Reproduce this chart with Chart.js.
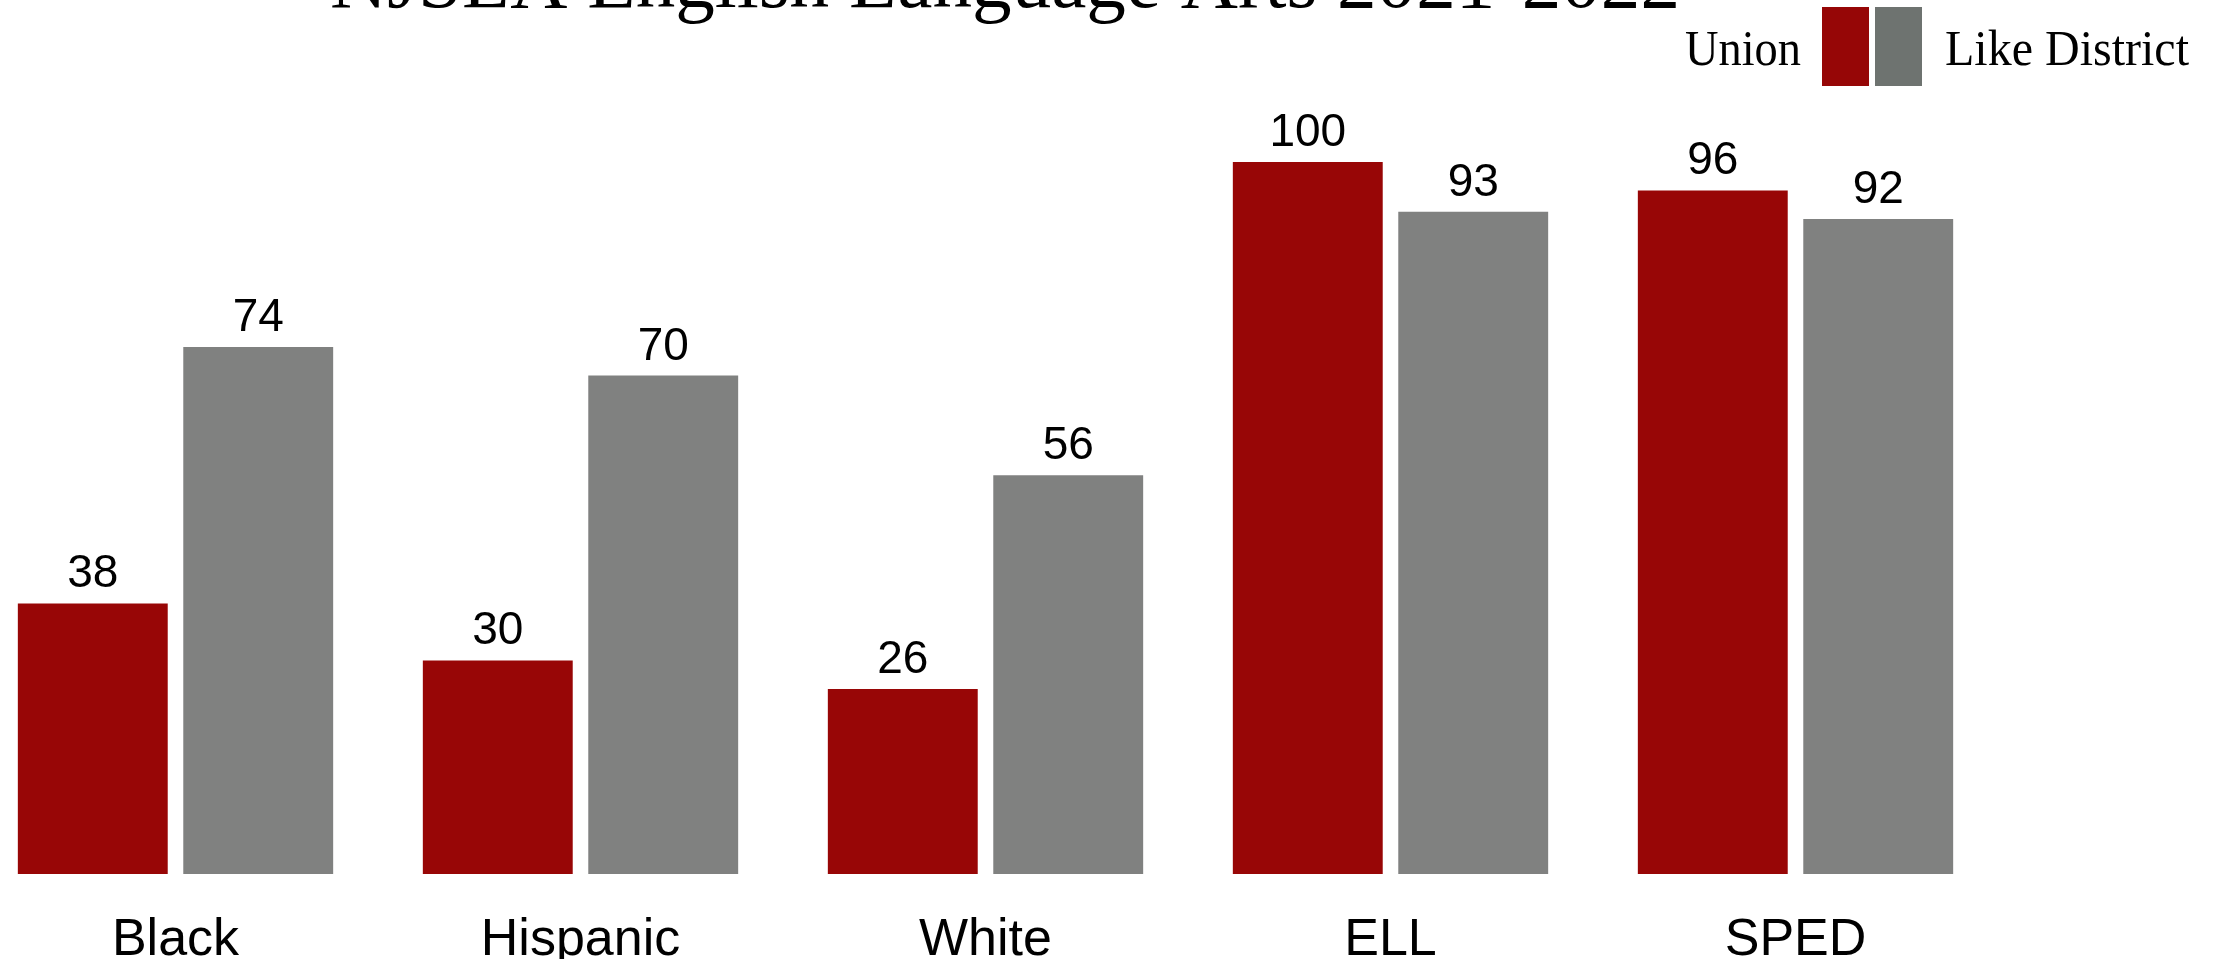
<!DOCTYPE html>
<html>
<head>
<meta charset="utf-8">
<script src="https://cdn.jsdelivr.net/npm/chart.js@4"></script>
<style>
  html, body { margin: 0; padding: 0; background: #ffffff; overflow: hidden; width: 2224px; height: 959px; }
  #wrap { position: absolute; left: -27px; top: 0; width: 2251px; height: 959px; }
</style>
</head>
<body>
<div id="wrap"><canvas id="c" width="2251" height="959"></canvas></div>
<script>
const titleText = "NJSLA English Language Arts 2021-2022";
const categories = ["Black", "Hispanic", "White", "ELL", "SPED"];
const seriesNames = ["Union", "Like District"];
const unionValues = [38, 30, 26, 100, 96];
const likeDistrictValues = [74, 70, 56, 93, 92];
const yMin = 0;
const yMax = 100;

const OFFSET_X = 27; // canvas is shifted left by this much on the page
const RED = "#980606";
const GRAY = "#808180";
const LEGEND_RED = "#960606";
const LEGEND_GRAY = "#6e7370";
const SERIF = "'Liberation Serif', 'Times New Roman', serif";
const SANS = "'Liberation Sans', Arial, Helvetica, sans-serif";

function drawFittedText(ctx, text, font, left, right, baseline) {
  ctx.save();
  ctx.font = font;
  ctx.textAlign = "left";
  ctx.textBaseline = "alphabetic";
  const w = ctx.measureText(text).width;
  const sx = (right - left) / w;
  ctx.translate(left + OFFSET_X, baseline);
  ctx.scale(sx, 1);
  ctx.fillStyle = "#000";
  ctx.fillText(text, 0, 0);
  ctx.restore();
}

const headerPlugin = {
  id: "header",
  afterDraw(chart) {
    const ctx = chart.ctx;
    // title
    drawFittedText(ctx, titleText, "79px " + SERIF, 330, 1680, 7);
    // legend
    drawFittedText(ctx, seriesNames[0], "50px " + SERIF, 1685, 1801, 65);
    ctx.save();
    ctx.fillStyle = LEGEND_RED;
    ctx.fillRect(1822 + OFFSET_X, 7, 47, 79);
    ctx.fillStyle = LEGEND_GRAY;
    ctx.fillRect(1875 + OFFSET_X, 7, 47, 79);
    ctx.restore();
    drawFittedText(ctx, seriesNames[1], "50px " + SERIF, 1945, 2189, 65);
  }
};

const valueLabelPlugin = {
  id: "valueLabels",
  afterDatasetsDraw(chart) {
    const ctx = chart.ctx;
    ctx.save();
    ctx.font = "46px " + SANS;
    ctx.fillStyle = "#000";
    ctx.textAlign = "center";
    ctx.textBaseline = "alphabetic";
    chart.data.datasets.forEach((ds, di) => {
      const meta = chart.getDatasetMeta(di);
      meta.data.forEach((el, i) => {
        ctx.fillText(String(ds.data[i]), el.x, el.y - 16);
      });
    });
    ctx.restore();
  }
};

new Chart(document.getElementById("c"), {
  type: "bar",
  data: {
    labels: categories,
    datasets: [
      { label: seriesNames[0], data: unionValues, backgroundColor: RED, borderWidth: 0,
        categoryPercentage: 0.817, barPercentage: 0.906 },
      { label: seriesNames[1], data: likeDistrictValues, backgroundColor: GRAY, borderWidth: 0,
        categoryPercentage: 0.817, barPercentage: 0.906 }
    ]
  },
  options: {
    responsive: false,
    devicePixelRatio: 1,
    animation: false,
    layout: { padding: { top: 162, right: 226, left: 0, bottom: 0 } },
    plugins: {
      legend: { display: false },
      title: { display: false },
      tooltip: { enabled: false }
    },
    scales: {
      x: {
        grid: { display: false },
        border: { display: false },
        ticks: { color: "#000", font: { family: SANS, size: 52 }, padding: 27, maxRotation: 0, autoSkip: false },
        afterFit(scale) { scale.height = 85; }
      },
      y: {
        display: false,
        min: yMin,
        max: yMax
      }
    }
  },
  plugins: [headerPlugin, valueLabelPlugin]
});
</script>
</body>
</html>
